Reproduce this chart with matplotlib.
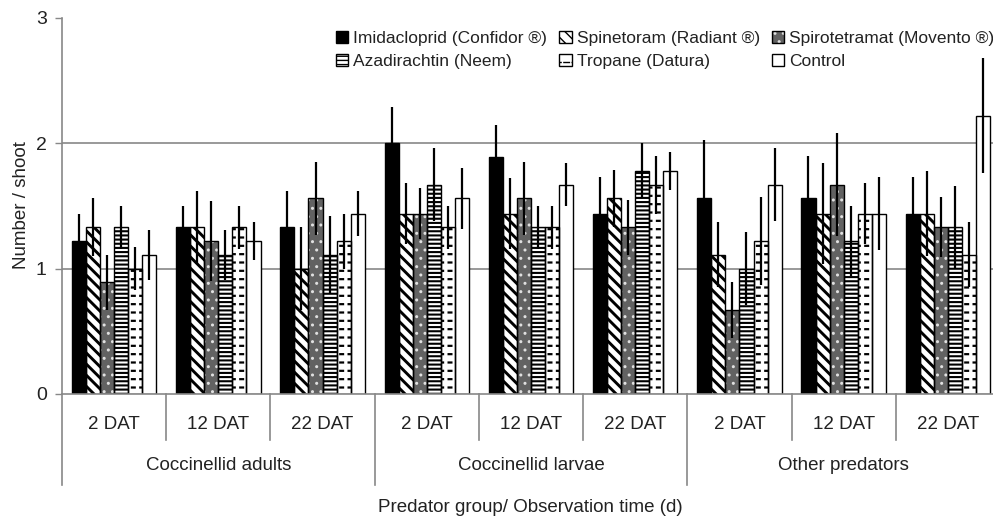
import matplotlib
matplotlib.use("Agg")
import matplotlib.pyplot as plt
from matplotlib.patches import Patch
from matplotlib.legend_handler import HandlerTuple
import matplotlib.transforms as mtransforms

plt.rcParams['font.family'] = ['Liberation Sans', 'DejaVu Sans']

groups = ["Coccinellid adults", "Coccinellid larvae", "Other predators"]
times = ["2 DAT", "12 DAT", "22 DAT"]
categories = [t for g in groups for t in times]

series_names = ["Imidacloprid (Confidor ®)", "Spinetoram (Radiant ®)",
                "Spirotetramat (Movento ®)", "Azadirachtin (Neem)",
                "Tropane (Datura)", "Control"]

imid = [1.22, 1.33, 1.33, 2.00, 1.89, 1.44, 1.56, 1.56, 1.44]
imid_err = [0.22, 0.17, 0.29, 0.29, 0.26, 0.29, 0.47, 0.34, 0.29]
spin = [1.33, 1.33, 1.00, 1.44, 1.44, 1.56, 1.11, 1.44, 1.44]
spin_err = [0.23, 0.29, 0.33, 0.24, 0.28, 0.23, 0.26, 0.40, 0.34]
spiro = [0.89, 1.22, 1.56, 1.44, 1.56, 1.33, 0.67, 1.67, 1.33]
spiro_err = [0.22, 0.32, 0.29, 0.20, 0.29, 0.22, 0.22, 0.41, 0.24]
azad = [1.33, 1.11, 1.11, 1.67, 1.33, 1.78, 1.00, 1.22, 1.33]
azad_err = [0.17, 0.20, 0.31, 0.29, 0.17, 0.22, 0.29, 0.28, 0.33]
trop = [1.00, 1.33, 1.22, 1.33, 1.33, 1.67, 1.22, 1.44, 1.11]
trop_err = [0.17, 0.17, 0.22, 0.17, 0.17, 0.23, 0.35, 0.24, 0.26]
ctrl = [1.11, 1.22, 1.44, 1.56, 1.67, 1.78, 1.67, 1.44, 2.22]
ctrl_err = [0.20, 0.15, 0.18, 0.24, 0.17, 0.15, 0.29, 0.29, 0.46]

values = [imid, spin, spiro, azad, trop, ctrl]
errors = [imid_err, spin_err, spiro_err, azad_err, trop_err, ctrl_err]

yticks = [0, 1, 2, 3]

W, H = 993, 518
fig = plt.figure(figsize=(W / 100, H / 100), dpi=100)
ax = fig.add_axes([62 / W, (H - 394) / H, 938 / W, 376 / H])

styles = [
    [dict(fc="black", hatch=None, hc="black", hlw=1.0)],
    [dict(fc="white", hatch="\\\\\\", hc="black", hlw=2.1)],
    [dict(fc="#626262", hatch="..", hc="#e0e0e0", hlw=1.0)],
    [dict(fc="white", hatch="----", hc="black", hlw=1.5)],
    [dict(fc="white", hatch="--", hc="black", hlw=1.6),
     dict(fc="none", hatch="||", hc="white", hlw=2.4)],
    [dict(fc="white", hatch=None, hc="black", hlw=1.0)],
]

n = len(values)
bw = 0.135
off = (1 - n * bw) / 2
x_base = list(range(len(categories)))


def style_bar(p, st):
    p.set_facecolor(st["fc"])
    p.set_edgecolor(st["hc"])
    p.set_linewidth(0)
    if st["hatch"]:
        p.set_hatch(st["hatch"])
        if hasattr(p, "set_hatch_linewidth"):
            p.set_hatch_linewidth(st["hlw"])


for k in range(n):
    xs = [i + off + k * bw + bw / 2 for i in x_base]
    for li, st in enumerate(styles[k]):
        with plt.rc_context({"hatch.linewidth": st["hlw"]}):
            bars = ax.bar(xs, values[k], width=bw, zorder=2 + li * 0.01)
            for p in bars:
                style_bar(p, st)
    ax.bar(xs, values[k], width=bw, facecolor="none", edgecolor="black",
           linewidth=1.0, zorder=2.5)
    ax.errorbar(xs, values[k], yerr=errors[k], fmt="none", ecolor="black",
                elinewidth=1.6, capsize=0, zorder=3)

ax.set_xlim(0, len(categories))
ax.set_ylim(0, 3)
ax.set_yticks(yticks)
ax.set_yticklabels([str(t) for t in yticks], fontsize=14, color="#222222")
ax.tick_params(axis="y", length=5, width=1, color="#888888", pad=6)
ax.set_xticks([])
for yv in [1, 2]:
    ax.axhline(yv, color="#888888", linewidth=1.2, zorder=1)

for s in ["top", "right"]:
    ax.spines[s].set_visible(False)
ax.spines["left"].set_color("#888888")
ax.spines["bottom"].set_color("#888888")
ax.spines["left"].set_linewidth(1.2)
ax.spines["bottom"].set_linewidth(1.2)

trans = mtransforms.blended_transform_factory(ax.transData, ax.transAxes)
for i in range(len(categories) + 1):
    long_line = (i % 3 == 0)
    y1 = -0.242 if long_line else -0.122
    ax.plot([i, i], [0, y1], transform=trans, color="#888888",
            linewidth=1.2, clip_on=False)
for i, c in enumerate(categories):
    ax.text(i + 0.5, -0.08, c, transform=trans, ha="center", va="center",
            fontsize=13.5, color="#222222")
for gi, g in enumerate(groups):
    ax.text(gi * 3 + 1.5, -0.19, g, transform=trans, ha="center",
            va="center", fontsize=13.5, color="#222222")

fig.text(530 / W, (H - 507) / H, "Predator group/ Observation time (d)",
         ha="center", va="center", fontsize=13.5, color="#222222")
fig.text(22 / W, (H - 205) / H, "Number / shoot", rotation=90,
         ha="center", va="center", fontsize=13.5, color="#222222")

handles = []
for k in range(n):
    parts = []
    for st in styles[k]:
        p = Patch(facecolor=st["fc"], edgecolor=st["hc"], linewidth=0,
                  hatch=st["hatch"])
        parts.append(p)
    parts.append(Patch(facecolor="none", edgecolor="black", linewidth=1.0))
    handles.append(tuple(parts))

order = [0, 3, 1, 4, 2, 5]
leg = fig.legend([handles[i] for i in order], [series_names[i] for i in order],
                 handler_map={tuple: HandlerTuple(ndivide=1, pad=0)},
                 ncol=3, loc="upper left",
                 bbox_to_anchor=(336 / W, (H - 31) / H),
                 frameon=False, fontsize=12.5, handlelength=0.7,
                 handleheight=0.7, handletextpad=0.3, columnspacing=0.7,
                 labelspacing=0.45, borderaxespad=0, borderpad=0)
for t in leg.get_texts():
    t.set_color("#222222")

fig.savefig("out.png", dpi=100)
